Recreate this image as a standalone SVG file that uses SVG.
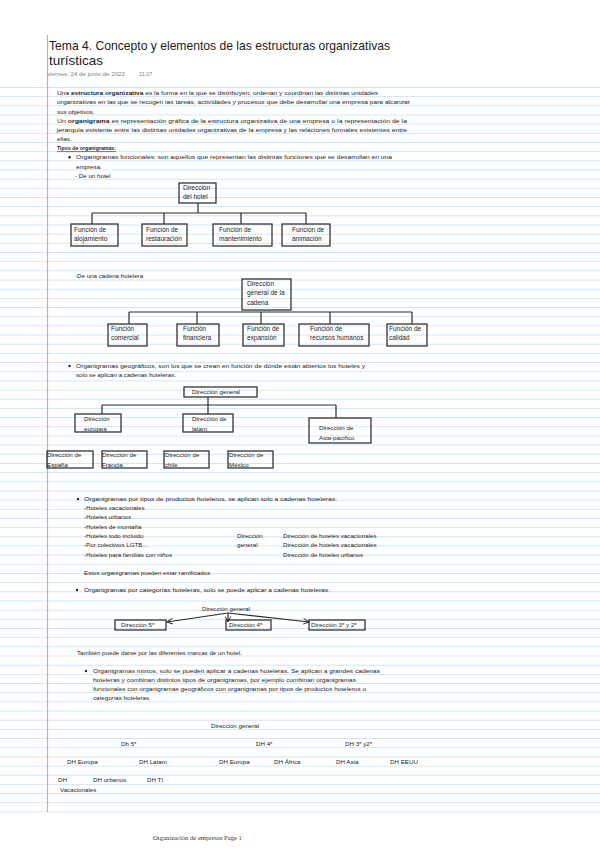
<svg xmlns="http://www.w3.org/2000/svg" width="600" height="848" viewBox="0 0 600 848">
<defs>
<pattern id="ruled" x="0" y="87" width="600" height="9.17" patternUnits="userSpaceOnUse">
<rect x="0" y="0" width="600" height="0.9" fill="#cfe4f5"/>
</pattern>
<marker id="arr" viewBox="0 0 10 10" refX="9" refY="5" markerWidth="7" markerHeight="7" orient="auto" markerUnits="userSpaceOnUse">
<path d="M1,1 L9,5 L1,9" fill="none" stroke="#333" stroke-width="1.4"/>
</marker>
</defs>
<style>
text{font-family:"Liberation Sans",Arial,sans-serif;font-size:6.2px;fill:#222}
.t{font-size:13.5px;fill:#1a1a1a}
.d{font-size:5.3px;fill:#808080}
.b{font-weight:bold}
.n text{font-size:6.5px}
.box{fill:none;stroke:#333;stroke-width:1.3}
.c{fill:none;stroke:#2a2a2a;stroke-width:1.2}
.f{font-family:"Liberation Serif","Times New Roman",serif;font-size:6.6px;fill:#333}
</style>
<rect width="600" height="848" fill="#fff"/>
<rect x="0" y="87" width="600" height="726" fill="url(#ruled)"/>
<line x1="47.5" y1="35" x2="47.5" y2="812" stroke="#f09aa3" stroke-width="1.2"/>

<g id="header">
<text class="t" x="49" y="50" textLength="341" lengthAdjust="spacingAndGlyphs">Tema 4. Concepto y elementos de las estructuras organizativas</text>
<text class="t" x="49" y="65" textLength="54" lengthAdjust="spacingAndGlyphs">turísticas</text>
<text class="d" x="47" y="76" textLength="78" lengthAdjust="spacingAndGlyphs">viernes, 24 de junio de 2022</text>
<text class="d" x="139" y="76">21:07</text>
</g>

<g id="intro">
<text x="57" y="95.2" textLength="321" lengthAdjust="spacingAndGlyphs">Una <tspan class="b">estructura organizativa</tspan> es la forma en la que se distribuyen, ordenan y coordinan las distintas unidades</text>
<text x="57" y="104.3" textLength="353" lengthAdjust="spacingAndGlyphs">organizativas en las que se recogen las tareas, actividades y procesos que debe desarrollar una empresa para alcanzar</text>
<text x="57" y="113.5">sus objetivos.</text>
<text x="57" y="122.7" textLength="350" lengthAdjust="spacingAndGlyphs">Un <tspan class="b">organigrama</tspan> es representación gráfica de la estructura organizativa de una empresa o la representación de la</text>
<text x="57" y="131.8" textLength="350" lengthAdjust="spacingAndGlyphs">jerarquía existente entre las distintas unidades organizativas de la empresa y las relaciones formales existentes entre</text>
<text x="57" y="141">ellas.</text>
<text x="57" y="150.2" class="b" textLength="59" lengthAdjust="spacingAndGlyphs">Tipos de organigramas:</text>
<line x1="57" y1="151.6" x2="116" y2="151.6" stroke="#222" stroke-width="0.6"/>
<circle cx="69.5" cy="157.2" r="1.2" fill="#222"/>
<text x="76" y="159.4" textLength="316" lengthAdjust="spacingAndGlyphs">Organigramas funcionales: son aquellos que representan las distintas funciones que se desarrollan en una</text>
<text x="76" y="168.5">empresa.</text>
<text x="75" y="177.7">- De un hotel</text>
</g>

<g id="connectors">
<path class="c" d="M198,203 V213 M92,213 H306 M92,213 V224 M164,213 V224 M241,213 V224 M306,213 V224"/>
<path class="c" d="M129,312 H412 M129,312 V324 M197,312 V324 M261,312 V324 M330,312 V324 M412,312 V324"/>
<path class="c" d="M208,397 V405 M102,405 H336 M102,405 V414 M208,405 V414 M336,405 V418"/>
<line class="c" x1="228" y1="613" x2="167" y2="622" marker-end="url(#arr)"/>
<line class="c" x1="228" y1="613" x2="228" y2="622" marker-end="url(#arr)"/>
<line class="c" x1="228" y1="613" x2="309" y2="622" marker-end="url(#arr)"/>
</g>

<g class="n">
<g id="hotel-root"><rect class="box" x="179" y="183" width="37" height="20"/><text x="183" y="190">Dirección</text><text x="183" y="199">del hotel</text></g>
<g id="hotel-aloj"><rect class="box" x="71" y="224" width="47" height="22"/><text x="74" y="232">Función de</text><text x="74" y="241">alojamiento</text></g>
<g id="hotel-rest"><rect class="box" x="142" y="224" width="45" height="22"/><text x="146" y="232">Función de</text><text x="146" y="241">restauración</text></g>
<g id="hotel-mant"><rect class="box" x="213" y="224" width="59" height="22"/><text x="219" y="232">Función de</text><text x="219" y="241">mantenimiento</text></g>
<g id="hotel-anim"><rect class="box" x="282" y="224" width="48" height="22"/><text x="292" y="232">Función de</text><text x="292" y="241">animación</text></g>

<g id="cad-root"><rect class="box" x="242" y="279" width="49" height="31"/><text x="247" y="285.5">Dirección</text><text x="247" y="295">general de la</text><text x="247" y="304.5">cadena</text></g>
<g id="cad-com"><rect class="box" x="108" y="324" width="39" height="22"/><text x="111" y="331">Función</text><text x="111" y="340">comercial</text></g>
<g id="cad-fin"><rect class="box" x="177" y="324" width="42" height="22"/><text x="183" y="331">Función</text><text x="183" y="340">financiera</text></g>
<g id="cad-exp"><rect class="box" x="243" y="324" width="41" height="22"/><text x="247" y="331">Función de</text><text x="247" y="340">expansión</text></g>
<g id="cad-rrhh"><rect class="box" x="299" y="324" width="70" height="22"/><text x="310" y="331">Función de</text><text x="310" y="340">recursos humanos</text></g>
<g id="cad-cal"><rect class="box" x="387" y="324" width="40" height="22"/><text x="389" y="331">Función de</text><text x="389" y="340">calidad</text></g>
</g>

<text x="75" y="278">-De una cadena hotelera</text>

<circle cx="69.5" cy="366" r="1.2" fill="#222"/>
<text x="76" y="368" textLength="289" lengthAdjust="spacingAndGlyphs">Organigramas geográficos, son los que se crean en función de dónde están abiertos los hoteles y</text>
<text x="76" y="377">solo se aplican a cadenas hoteleras.</text>
<g id="geo-root"><rect class="box" x="184" y="387" width="73" height="10"/><text x="192" y="394">Dirección general</text></g>
<g id="geo-eu"><rect class="box" x="75" y="414" width="46" height="18"/><text x="84" y="421">Dirección</text><text x="84" y="431">europea</text></g>
<g id="geo-latam"><rect class="box" x="183" y="414" width="50" height="18"/><text x="192" y="421">Dirección de</text><text x="192" y="431">latam</text></g>
<g id="geo-asia"><rect class="box" x="309" y="418" width="62" height="25"/><text x="319" y="430">Dirección de</text><text x="319" y="440">Asia-pacífico</text></g>
<g id="geo-es"><rect class="box" x="47" y="451" width="46" height="17"/><text x="47" y="457">Dirección de</text><text x="47" y="467">España</text></g>
<g id="geo-fr"><rect class="box" x="102" y="451" width="45" height="17"/><text x="102" y="457">Dirección de</text><text x="102" y="467">Francia</text></g>
<g id="geo-cl"><rect class="box" x="164" y="451" width="45" height="17"/><text x="165" y="457">Dirección de</text><text x="165" y="467">chile</text></g>
<g id="geo-mx"><rect class="box" x="228" y="451" width="45" height="17"/><text x="229" y="457">Dirección de</text><text x="229" y="467">México</text></g>

<g id="productos">
<circle cx="78" cy="499" r="1.2" fill="#222"/>
<text x="84" y="501" textLength="253" lengthAdjust="spacingAndGlyphs">Organigramas por tipos de productos hoteleros, se aplican solo a cadenas hoteleras:</text>
<text x="84" y="510">-Hoteles vacacionales</text>
<text x="84" y="519">-Hoteles urbanos</text>
<text x="84" y="528.5">-Hoteles de montaña</text>
<text x="84" y="538">-Hoteles todo incluido</text>
<text x="84" y="547">-Por colectivos LGTB…</text>
<text x="84" y="556.5">-Hoteles para familias con niños</text>
<text x="237" y="538">Dirección</text>
<text x="237" y="547">general</text>
<text x="283" y="538">Dirección de hoteles vacacionales</text>
<text x="283" y="547">Dirección de hoteles vacacionales</text>
<text x="283" y="556.5">Dirección de hoteles urbanos</text>
<text x="84" y="575">Estos organigramas pueden estar ramificados</text>
</g>

<circle cx="77" cy="590" r="1.2" fill="#222"/>
<text x="84" y="592" textLength="246" lengthAdjust="spacingAndGlyphs">Organigramas por categorías hoteleras, solo se puede aplicar a cadenas hoteleras:</text>
<g id="cat-root"><text x="202" y="611">Dirección general</text></g>
<g id="cat-5"><rect class="box" x="115" y="620" width="51" height="10"/><text x="121" y="627">Dirección 5*</text></g>
<g id="cat-4"><rect class="box" x="226" y="620" width="45" height="10"/><text x="229" y="627">Dirección 4*</text></g>
<g id="cat-3"><rect class="box" x="309" y="620" width="56" height="10"/><text x="311" y="627">Dirección 3* y 2*</text></g>
<text x="77" y="654.5">También puede darse por las diferentes marcas de un hotel.</text>

<g id="mixtos">
<circle cx="86" cy="671" r="1.2" fill="#222"/>
<text x="93" y="673" textLength="287" lengthAdjust="spacingAndGlyphs">Organigramas mixtos, solo se pueden aplicar a cadenas hoteleras. Se aplican a grandes cadenas</text>
<text x="93" y="682" textLength="263" lengthAdjust="spacingAndGlyphs">hoteleras y combinan distintos tipos de organigramas, por ejemplo combinan organigramas</text>
<text x="93" y="691.2" textLength="273" lengthAdjust="spacingAndGlyphs">funcionales con organigramas geográficos con organigramas por tipos de productos hoteleros o</text>
<text x="93" y="700.4">categorías hoteleras.</text>
</g>

<g id="mix-chart">
<text x="211" y="728">Dirección general</text>
<text x="121" y="746">Dh 5*</text>
<text x="256" y="746">DH 4*</text>
<text x="345" y="746">DH 3* y2*</text>
<text x="67" y="764">DH Europa</text>
<text x="139" y="764">DH Latam</text>
<text x="219" y="764">DH Europa</text>
<text x="274" y="764">DH África</text>
<text x="336" y="764">DH Asia</text>
<text x="390" y="764">DH EEUU</text>
<text x="58" y="782">DH</text>
<text x="93" y="782">DH urbanos</text>
<text x="147" y="782">DH TI</text>
<text x="60" y="792">Vacacionales</text>
</g>

<text class="f" x="153" y="840">Organización de empresas Page 1</text>
</svg>
